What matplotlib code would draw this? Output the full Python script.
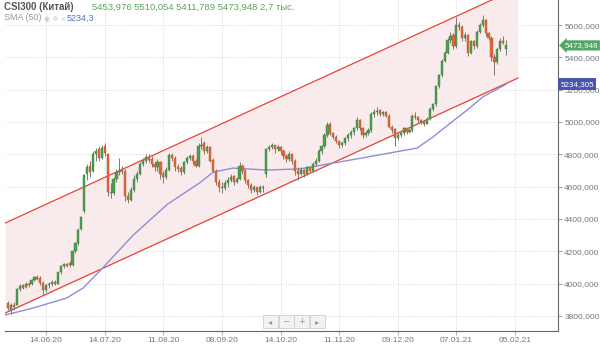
import matplotlib
matplotlib.use("Agg")
import matplotlib.pyplot as plt
import matplotlib.patches as patches
import numpy as np

plt.rcParams['font.family'] = ['Liberation Sans', 'DejaVu Sans']

# daily candles, CSI300 (index positions 0..170)
opens = [3880, 3835, 3870, 3870, 3965, 3990, 3980, 4000, 3995, 4025,
         4040, 4035, 4005, 3960, 3990, 3995, 4010, 4000, 4070, 4110,
         4120, 4125, 4115, 4200, 4250, 4340, 4450, 4680, 4730, 4700,
         4800, 4830, 4780, 4850, 4800, 4570, 4560, 4650, 4690, 4710,
         4700, 4540, 4520, 4580, 4650, 4680, 4740, 4760, 4785, 4770,
         4740, 4720, 4755, 4680, 4660, 4705, 4795, 4780, 4720, 4715,
         4690, 4750, 4780, 4790, 4760, 4730, 4850, 4870, 4820, 4845,
         4765, 4700, 4630, 4600, 4590, 4620, 4640, 4665, 4630, 4650,
         4730, 4700, 4640, 4610, 4580, 4595, 4570, 4600, 4680, 4830,
         4845, 4855, 4830, 4845, 4820, 4790, 4770, 4800, 4760, 4700,
         4680, 4705, 4680, 4720, 4700, 4740, 4760, 4820, 4850, 4920,
         4990, 4930, 4910, 4880, 4860, 4870, 4900, 4920, 4940, 4960,
         5010, 4960, 4920, 4930, 4950, 5050, 5060, 5075, 5050, 5065,
         5040, 4970, 4955, 4900, 4920, 4930, 4960, 4940, 4950, 5040,
         5030, 5010, 5000, 4990, 5020, 5080, 5110, 5220, 5290, 5380,
         5430, 5510, 5540, 5470, 5600, 5590, 5520, 5540, 5430, 5500,
         5470, 5560, 5600, 5630, 5550, 5520, 5400, 5370, 5450, 5500,
         5453.976]
highs = [3895, 3880, 3885, 3975, 3995, 4000, 4010, 4010, 4030, 4050,
         4055, 4045, 4015, 4000, 4010, 4020, 4020, 4075, 4115, 4130,
         4130, 4140, 4210, 4260, 4345, 4420, 4680, 4740, 4760, 4820,
         4840, 4850, 4860, 4870, 4810, 4620, 4660, 4710, 4780, 4730,
         4710, 4570, 4600, 4670, 4700, 4750, 4780, 4800, 4800, 4790,
         4760, 4770, 4760, 4700, 4720, 4810, 4810, 4790, 4740, 4730,
         4760, 4790, 4800, 4800, 4770, 4870, 4910, 4880, 4860, 4850,
         4780, 4710, 4650, 4630, 4640, 4660, 4680, 4670, 4660, 4750,
         4740, 4710, 4650, 4620, 4610, 4600, 4610, 4610, 4840, 4860,
         4870, 4860, 4860, 4850, 4830, 4800, 4820, 4810, 4770, 4720,
         4720, 4710, 4730, 4730, 4750, 4780, 4830, 4860, 4930, 5000,
         5000, 4940, 4920, 4890, 4885, 4910, 4930, 4950, 4970, 5030,
         5020, 4970, 4945, 4960, 5060, 5080, 5090, 5080, 5070, 5070,
         5050, 4980, 4960, 4930, 4945, 4970, 4965, 4960, 5050, 5060,
         5040, 5020, 5010, 5030, 5090, 5120, 5230, 5300, 5390, 5440,
         5520, 5560, 5550, 5650, 5620, 5600, 5560, 5545, 5510, 5510,
         5570, 5610, 5660, 5640, 5560, 5530, 5420, 5460, 5520, 5530,
         5510.054]
lows = [3835, 3815, 3840, 3865, 3955, 3965, 3970, 3980, 3990, 4015,
        4020, 3990, 3930, 3950, 3975, 3985, 3990, 3995, 4060, 4095,
        4100, 4105, 4110, 4190, 4240, 4335, 4440, 4640, 4660, 4690,
        4760, 4760, 4770, 4790, 4540, 4530, 4550, 4630, 4670, 4680,
        4510, 4500, 4510, 4570, 4630, 4670, 4730, 4745, 4750, 4720,
        4700, 4700, 4650, 4620, 4650, 4700, 4760, 4700, 4690, 4670,
        4680, 4740, 4765, 4740, 4720, 4720, 4830, 4800, 4810, 4750,
        4690, 4610, 4570, 4560, 4580, 4600, 4630, 4610, 4620, 4640,
        4680, 4620, 4590, 4560, 4570, 4550, 4560, 4570, 4660, 4820,
        4830, 4810, 4820, 4800, 4770, 4750, 4760, 4740, 4670, 4640,
        4670, 4660, 4670, 4690, 4690, 4730, 4750, 4800, 4840, 4910,
        4920, 4895, 4870, 4840, 4845, 4860, 4880, 4900, 4920, 4950,
        4950, 4900, 4910, 4920, 4940, 5030, 5045, 5040, 5040, 5030,
        4960, 4930, 4850, 4890, 4910, 4920, 4925, 4930, 4940, 5020,
        4995, 4985, 4975, 4985, 5010, 5070, 5100, 5210, 5280, 5370,
        5420, 5490, 5450, 5460, 5570, 5500, 5500, 5410, 5420, 5450,
        5460, 5550, 5590, 5530, 5510, 5380, 5290, 5360, 5440, 5480,
        5411.789]
closes = [3850, 3870, 3855, 3965, 3985, 3975, 4000, 3990, 4025, 4040,
          4030, 4005, 3960, 3990, 3995, 4010, 4000, 4070, 4110, 4120,
          4110, 4115, 4200, 4250, 4335, 4410, 4670, 4720, 4690, 4800,
          4820, 4780, 4840, 4810, 4570, 4560, 4650, 4690, 4700, 4700,
          4540, 4520, 4580, 4650, 4680, 4740, 4760, 4785, 4765, 4740,
          4720, 4755, 4680, 4660, 4705, 4795, 4780, 4720, 4710, 4690,
          4750, 4780, 4790, 4760, 4730, 4850, 4860, 4820, 4845, 4760,
          4700, 4630, 4600, 4590, 4620, 4640, 4660, 4630, 4650, 4730,
          4700, 4640, 4610, 4580, 4595, 4570, 4600, 4590, 4830, 4845,
          4855, 4830, 4845, 4820, 4790, 4770, 4800, 4760, 4700, 4680,
          4705, 4680, 4720, 4700, 4740, 4760, 4820, 4850, 4920, 4980,
          4930, 4910, 4880, 4860, 4870, 4900, 4920, 4940, 4960, 5010,
          4960, 4920, 4930, 4950, 5050, 5060, 5070, 5050, 5060, 5040,
          4970, 4950, 4900, 4920, 4930, 4960, 4940, 4950, 5040, 5030,
          5010, 5000, 4990, 5020, 5080, 5110, 5220, 5290, 5380, 5430,
          5510, 5530, 5470, 5600, 5590, 5520, 5540, 5430, 5500, 5470,
          5560, 5600, 5630, 5550, 5520, 5400, 5370, 5450, 5500, 5490,
          5473.948]

# SMA(50) read at a few candle positions
sma_x = [-1, 8.5, 20, 25.6, 31.4, 42.7, 54.3, 65.5, 70, 76.8, 88.4, 99.7,
         111, 122.5, 139.6, 145, 151, 156.7, 162, 170]
sma_y = [3806, 3849, 3911, 3973, 4080, 4300, 4490, 4625, 4690, 4715, 4703,
         4710, 4746, 4783, 4839, 4907, 4994, 5074, 5155, 5234]

# trend channel end points
chan_x = [-1, 174]
chan_upper = [4375, 5829]
chan_lower = [3818, 5272]

date_pos = [13, 33, 53, 73, 93, 113, 133, 153, 173]
date_labels = ['14.06.20', '14.07.20', '11.08.20', '08.09.20', '14.10.20',
               '11.11.20', '09.12.20', '07.01.21', '05.02.21']
price_ticks = [3800, 4000, 4200, 4400, 4600, 4800, 5000, 5200, 5400, 5600]

last_close = 5473.948
last_sma = 5234.305

W, H = 600, 354
fig = plt.figure(figsize=(6, 3.54), dpi=100)
ax = fig.add_axes([5 / W, 1 - 331 / H, 553 / W, 331 / H])

ax.set_xlim(-1.05, 187.7)
ax.set_ylim(3707, 5755)

ax.fill_between(chan_x, chan_lower, chan_upper, color='#f9ebeb', lw=0, zorder=1)
ax.plot(chan_x, chan_upper, color='#e8413a', lw=0.9, zorder=2)
ax.plot(chan_x, chan_lower, color='#e8413a', lw=0.9, zorder=2)
ax.plot(sma_x, sma_y, color='#8a8fd8', lw=1.0, zorder=3)

xs = np.arange(len(closes))
o = np.array(opens)
c = np.array(closes)
up = c >= o
ax.vlines(xs, lows, highs, color='#7a7a7a', lw=0.7, zorder=4)
ax.bar(xs[up], (c - o)[up], bottom=o[up], width=0.75, color='#4e9e52',
       edgecolor='#3a7d3e', lw=0.3, zorder=5)
ax.bar(xs[~up], (o - c)[~up], bottom=c[~up], width=0.75, color='#d86a3c',
       edgecolor='#b5532a', lw=0.3, zorder=5)

# axes styling
for s in ['top', 'left']:
    ax.spines[s].set_visible(False)
for s in ['right', 'bottom']:
    ax.spines[s].set_color('#666666')
    ax.spines[s].set_linewidth(0.8)
ax.yaxis.tick_right()
ax.set_yticks(price_ticks)
ax.set_yticklabels([f'{v:.3f}'.replace('.', ',') for v in price_ticks])
ax.set_xticks(date_pos)
ax.set_xticklabels(date_labels)
ax.tick_params(axis='y', colors='#888888', labelcolor='#777777', labelsize=6,
               length=3, width=0.6, pad=1.5)
ax.tick_params(axis='x', colors='#aaaaaa', labelcolor='#777777', labelsize=6,
               length=3, width=0.6, pad=1.5)
ax.grid(True, color='#d9d9d9', lw=0.6, linestyle=(0, (1.5, 1.5)), zorder=0)
ax.set_axisbelow(True)

# price labels on the right axis
ytr = ax.get_yaxis_transform()
ax.text(1.012, last_close, '5473,948', transform=ytr, ha='left', va='center',
        fontsize=5.8, color='white', zorder=10, clip_on=False,
        bbox=dict(boxstyle='larrow,pad=0.2', fc='#55a567', ec='none'))
ax.text(1.004, last_sma, '5234,305', transform=ytr, ha='left', va='center',
        fontsize=5.8, color='white', zorder=10, clip_on=False,
        bbox=dict(boxstyle='square,pad=0.3', fc='#4b55b0', ec='none'))

# header
fig.text(4 / W, 1 - 7 / H, 'CSI300 (Китай)', fontsize=7, fontweight='bold',
         color='#555555', va='center')
fig.text(92 / W, 1 - 7 / H, '5453,976 5510,054 5411,789 5473,948 2,7 тыс.',
         fontsize=6.8, color='#5aa55a', va='center')
fig.text(4 / W, 1 - 18 / H, 'SMA (50)', fontsize=6.5, color='#999999', va='center')
fig.text(44 / W, 1 - 18 / H, '◉ ✲ ×', fontsize=5, color='#c8c8c8', va='center',
         family=['DejaVu Sans'])
fig.text(67 / W, 1 - 18 / H, '5234,3', fontsize=6.5, color='#5b6fc8', va='center')

# navigation buttons
for k, sym in enumerate(['◂', '−', '+', '▸']):
    x0 = 263 + k * 15.5
    fig.add_artist(patches.Rectangle((x0 / W, 1 - 328 / H), 15 / W, 13 / H,
                                     transform=fig.transFigure, fc='#f2f2f2',
                                     ec='#cfcfcf', lw=0.6))
    fig.text((x0 + 7.5) / W, 1 - 321.5 / H, sym, fontsize=6, color='#999999',
             ha='center', va='center', family=['DejaVu Sans'])

fig.savefig('out.png', dpi=100, facecolor='white')
